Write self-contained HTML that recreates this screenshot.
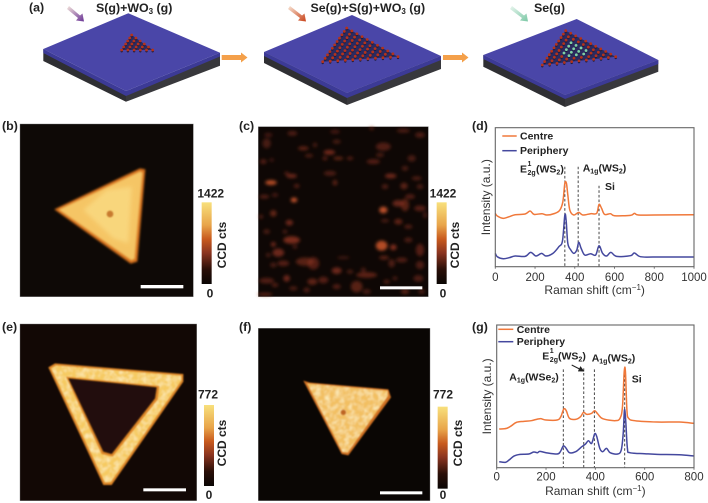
<!DOCTYPE html>
<html lang="en">
<head>
<meta charset="utf-8">
<title>Raman and PL mapping figure</title>
<style>
html,body{margin:0;padding:0;background:#fff;width:708px;height:503px;overflow:hidden}
svg{display:block;font-family:"Liberation Sans",sans-serif}
.lab{font-size:12.4px;font-weight:bold;fill:#222}
.ann{font-size:10.5px;font-weight:bold;fill:#222}
.sm{font-size:7px;font-weight:bold;fill:#222}
.cb{font-size:12px;font-weight:bold;fill:#222;text-anchor:middle}
.axt{font-size:12px;fill:#333}
</style>
</head>
<body>
<svg id="fig" width="708" height="503" viewBox="0 0 708 503" xmlns="http://www.w3.org/2000/svg">
<defs>
<linearGradient id="cbar" x1="0" y1="1" x2="0" y2="0">
<stop offset="0" stop-color="#0a0604"/><stop offset=".18" stop-color="#2a0f08"/><stop offset=".38" stop-color="#8a3420"/><stop offset=".55" stop-color="#c85a1e"/><stop offset=".72" stop-color="#e8a44a"/><stop offset="1" stop-color="#f8e07c"/>
</linearGradient>
<linearGradient id="gas1" x1="0" y1="0" x2="1" y2="1"><stop offset="0" stop-color="#f4e4dc"/><stop offset="1" stop-color="#6a3496"/></linearGradient>
<linearGradient id="gas2" x1="0" y1="0" x2="1" y2="1"><stop offset="0" stop-color="#f8e4d4"/><stop offset="1" stop-color="#c8431a"/></linearGradient>
<linearGradient id="gas3" x1="0" y1="0" x2="1" y2="1"><stop offset="0" stop-color="#e8f5ee"/><stop offset="1" stop-color="#7cc8a6"/></linearGradient>
<filter id="b6" x="-20%" y="-20%" width="140%" height="140%"><feGaussianBlur stdDeviation="6"/></filter>
<filter id="b4" x="-20%" y="-20%" width="140%" height="140%"><feGaussianBlur stdDeviation="3.5"/></filter>
<filter id="b3" x="-20%" y="-20%" width="140%" height="140%"><feGaussianBlur stdDeviation="2.5"/></filter>
<filter id="blob" x="-60%" y="-60%" width="220%" height="220%"><feGaussianBlur stdDeviation="4.5"/></filter>
<filter id="dot" x="-60%" y="-60%" width="220%" height="220%"><feGaussianBlur stdDeviation="2.5"/></filter>
<filter id="mottle" x="-5%" y="-5%" width="110%" height="110%">
<feTurbulence type="fractalNoise" baseFrequency=".07" numOctaves="2" seed="4" result="n"/>
<feColorMatrix in="n" type="matrix" values="0 0 0 0 .98  0 0 0 0 .86  0 0 0 0 .52  1.8 0 0 0 -.7" result="m"/>
<feComposite in="m" in2="SourceGraphic" operator="in" result="c"/>
<feMerge><feMergeNode in="SourceGraphic"/><feMergeNode in="c"/></feMerge>
<feGaussianBlur stdDeviation="2"/>
</filter>
<marker id="ah" markerWidth="6" markerHeight="6" refX="5" refY="3" orient="auto"><path d="M0,0 L6,3 L0,6 Z" fill="#222"/></marker>
</defs>

<!-- Panel a -->
<g id="panel-a">
<text class="lab" x="29" y="11.5">(a)</text>
<text class="lab" x="96" y="12">S(g)+WO<tspan font-size="8" dy="2">3</tspan><tspan dy="-2"> (g)</tspan></text>
<text class="lab" x="310.5" y="12">Se(g)+S(g)+WO<tspan font-size="8" dy="2">3</tspan><tspan dy="-2"> (g)</tspan></text>
<text class="lab" x="534" y="12">Se(g)</text>

<path d="M69,6 L80,15.5 L82.5,13.5 L84,21.5 L76,20.5 L78,18 L67,9 Z" fill="url(#gas1)"/>
<path d="M290,6 L302,15.5 L304.5,13.5 L306,21.5 L298,20.5 L300,18 L288,9 Z" fill="url(#gas2)"/>
<path d="M512,6 L524,15.5 L526.5,13.5 L528,21.5 L520,20.5 L522,18 L510,9 Z" fill="url(#gas3)"/>

<g>
<path d="M43.3,49 L126,95 L126,101.7 L43.3,61 Z" fill="#2f2f33"/>
<path d="M126,95 L220,52.7 L220,65.7 L126,101.7 Z" fill="#38383c"/>
<path d="M43.3,49 L126,91 L220,52.7 L220,56.5 L126,96 L43.3,53 Z" fill="#3c3a96"/>
<path d="M43.3,49 L128.3,13.3 L220,52.7 L126,91 Z" fill="#4a46a8"/>
</g>
<g>
<path d="M264,52 L347,93 L347,105 L264,63 Z" fill="#2f2f33"/>
<path d="M347,93 L441,56 L441,69 L347,105 Z" fill="#38383c"/>
<path d="M264,52 L347,93 L441,56 L441,60 L347,98 L264,56 Z" fill="#3c3a96"/>
<path d="M264,52 L352,15 L441,56 L347,93 Z" fill="#4a46a8"/>
</g>
<g>
<path d="M483.3,55 L565,95 L565,107 L483.3,66.7 Z" fill="#2f2f33"/>
<path d="M565,95 L658.3,60 L658.3,71.7 L565,107 Z" fill="#38383c"/>
<path d="M483.3,55 L565,95 L658.3,60 L658.3,64 L565,99 L483.3,59 Z" fill="#3c3a96"/>
<path d="M483.3,55 L576.7,19 L658.3,60 L565,95 Z" fill="#4a46a8"/>
</g>
<g id="atoms"></g>
<path d="M221.7,55 L241,55 L241,52.5 L247.5,57.5 L241,62.5 L241,60 L221.7,60 Z" fill="#f4a04a"/>
<path d="M443,55 L462,55 L462,52.5 L468.5,57.5 L462,62.5 L462,60 L443,60 Z" fill="#f4a04a"/>
</g>

<!-- Panel b -->
<text class="lab" x="2" y="130">(b)</text>
<g transform="translate(0,115) scale(.33333)">
<rect x="60" y="27" width="520" height="518" fill="#0e0906" stroke="#777" stroke-width="1.2"/>
<polygon points="163,283 420,160 436,163 412,440 392,446" fill="#d4701f" filter="url(#b4)"/>
<polygon points="176,284 420,169 428,172 404,432 394,436" fill="#f5c565" filter="url(#b4)"/>
<polygon points="250,285 320,225 395,215 385,385 340,370" fill="#f9d981" filter="url(#b6)" opacity=".85"/>
<circle cx="330" cy="297" r="10" fill="#c87a2e" filter="url(#dot)"/>
<rect x="422" y="510" width="128" height="10" fill="#fff"/>
<rect x="605" y="262" width="30" height="245" fill="url(#cbar)"/>
</g>
<text class="cb" x="210.7" y="197.5">1422</text>
<text class="cb" x="210" y="297.5">0</text>
<text class="cb" transform="translate(226,245) rotate(-90)">CCD cts</text>

<!-- Panel c -->
<text class="lab" x="239" y="130">(c)</text>
<g transform="translate(235,115) scale(.33333)">
<rect x="70" y="35" width="510" height="510" fill="#0e0705" stroke="#777" stroke-width="1.2"/>
<g id="blobs" filter="url(#blob)"></g>
<rect x="435" y="514" width="127" height="9" fill="#fff"/>
<rect x="605" y="262" width="30" height="245" fill="url(#cbar)"/>
</g>
<text class="cb" x="443" y="197.5">1422</text>
<text class="cb" x="443" y="297.5">0</text>
<text class="cb" transform="translate(459,245) rotate(-90)">CCD cts</text>

<!-- Panel e -->
<text class="lab" x="2" y="331">(e)</text>
<g transform="translate(0,310) scale(.33333)">
<rect x="60" y="42" width="530" height="530" fill="#120805" stroke="#777" stroke-width="1.2"/>
<polygon points="205,205 470,232 465,265 335,432 310,425" fill="#220d07" filter="url(#b3)"/>
<path d="M145,172 L165,160 L550,192 L550,215 L335,525 L310,525 Z M205,205 L310,425 L335,432 L465,265 L470,232 Z" fill-rule="evenodd" fill="#dc8428" filter="url(#b3)"/>
<path d="M153,175 L168,166 L544,197 L544,212 L332,517 L314,517 Z M198,200 L305,432 L338,440 L473,268 L478,228 Z" fill-rule="evenodd" fill="#f6ca62" filter="url(#mottle)"/>
<rect x="430" y="535" width="128" height="9" fill="#fff"/>
<rect x="612" y="285" width="30" height="243" fill="url(#cbar)"/>
</g>
<text class="cb" x="208" y="398.5">772</text>
<text class="cb" x="209" y="499">0</text>
<text class="cb" transform="translate(226,443) rotate(-90)">CCD cts</text>

<!-- Panel f -->
<text class="lab" x="239" y="331">(f)</text>
<g transform="translate(235,310) scale(.33333)">
<rect x="70" y="55" width="515" height="517" fill="#0a0604" stroke="#777" stroke-width="1.2"/>
<polygon points="205,212 225,218 460,238 468,262 340,436 320,432" fill="#cf7020" filter="url(#b3)"/>
<polygon points="216,220 458,242 459,258 338,428 322,426" fill="#f2bf62" filter="url(#mottle)"/>
<circle cx="325" cy="307" r="8" fill="#bd6522" filter="url(#dot)"/>
<rect x="435" y="544" width="127" height="9" fill="#fff"/>
<rect x="608" y="290" width="30" height="246" fill="url(#cbar)"/>
</g>
<text class="cb" x="443" y="398.5">772</text>
<text class="cb" x="443" y="499">0</text>
<text class="cb" transform="translate(462,443) rotate(-90)">CCD cts</text>

<!-- Panel d -->
<text class="lab" x="472" y="130">(d)</text>
<g id="chart-d"></g>
<g>
<line x1="502.3" x2="516.7" y1="136" y2="136" stroke="#f0783a" stroke-width="1.5"/>
<text class="ann" x="520" y="139.5">Centre</text>
<line x1="502.3" x2="516.7" y1="150.7" y2="150.7" stroke="#44489e" stroke-width="1.5"/>
<text class="ann" x="520" y="154">Periphery</text>
</g>
<g>
<text class="ann" x="520" y="172.3">E</text>
<text class="sm" x="527.5" y="166">1</text>
<text class="sm" x="527.5" y="175">2g</text>
<text class="ann" x="536" y="172.3">(WS<tspan font-size="7" dy="2">2</tspan><tspan dy="-2">)</tspan></text>
<text class="ann" x="582.7" y="171.7">A<tspan font-size="7" dy="2">1g</tspan><tspan dy="-2">(WS</tspan><tspan font-size="7" dy="2">2</tspan><tspan dy="-2">)</tspan></text>
<text class="ann" x="605" y="190">Si</text>
</g>

<!-- Panel g -->
<text class="lab" x="472" y="331">(g)</text>
<g id="chart-g"></g>
<g>
<line x1="498.3" x2="513.3" y1="329.3" y2="329.3" stroke="#f0783a" stroke-width="1.5"/>
<text class="ann" x="516.7" y="333">Centre</text>
<line x1="498.3" x2="513.3" y1="341.7" y2="341.7" stroke="#44489e" stroke-width="1.5"/>
<text class="ann" x="516.7" y="345">Periphery</text>
</g>
<g>
<text class="ann" x="509.3" y="380.7">A<tspan font-size="7" dy="2">1g</tspan><tspan dy="-2">(WSe</tspan><tspan font-size="7" dy="2">2</tspan><tspan dy="-2">)</tspan></text>
<text class="ann" x="542.3" y="359.3">E</text>
<text class="sm" x="549.8" y="353">1</text>
<text class="sm" x="549.8" y="362">2g</text>
<text class="ann" x="558" y="359.3">(WS<tspan font-size="7" dy="2">2</tspan><tspan dy="-2">)</tspan></text>
<text class="ann" x="591.7" y="361.7">A<tspan font-size="7" dy="2">1g</tspan><tspan dy="-2">(WS</tspan><tspan font-size="7" dy="2">2</tspan><tspan dy="-2">)</tspan></text>
<text class="ann" x="631.7" y="382.7">Si</text>
<line x1="571.7" y1="365" x2="583.5" y2="371" stroke="#222" stroke-width="1" marker-end="url(#ah)"/>
</g>

<script>
// Panel (d) data
var dTicks = [0, 200, 400, 600, 800, 1000];
var dCentreShift = [0,10,40,70,100,150,175,195,235,260,300,325,340,350,358,365,375,395,420,440,480,510,522,535,550,580,600,680,700,720,800,1000];
var dCentreValues = [160,152,145,150,156,158,167,157,159,155,160,170,195,250,250,215,170,155,163,155,159,160,187,175,157,159,153,154,160,155,155,156];
var dPeripheryShift = [0,10,40,70,100,150,178,205,233,255,290,320,338,350,357,365,380,395,410,420,432,450,480,505,522,540,560,582,610,680,700,730,800,1000];
var dPeripheryValues = [40,30,24,27,32,31,43,32,40,32,40,60,77,155,135,70,50,40,50,73,55,35,39,35,63,40,32,43,31,33,41,30,29,29];
var dPeaks = [350, 417, 522];
var dPeakTops = [300, 300, 243];

// Panel (g) data
var gTicks = [0, 200, 400, 600, 800];
var gCentreShift = [10,40,60,80,110,140,175,200,245,260,272,282,295,320,340,352,365,385,397,410,430,480,500,510,517,522,528,535,560,650,740,800];
var gCentreValues = [116,118,126,136,139,141,147,143,143,153,176,171,148,145,153,166,160,163,171,161,147,141,148,183,288,288,173,148,141,137,137,133];
var gPeripheryShift = [10,35,50,70,95,130,150,165,175,200,245,258,270,280,295,320,345,360,372,385,397,405,418,430,445,460,490,505,513,518,523,530,540,600,650,740,800];
var gPeripheryValues = [18,16,23,35,40,41,47,45,49,45,41,48,65,60,45,48,63,71,81,73,101,95,58,48,58,45,41,53,103,173,143,58,45,42,40,39,35];
var gPeaks = [270, 353, 396, 519];
var gPeakTops = [295, 298, 295, 293];

// Speckle blobs visible in map (c): centre x, centre y, radius x, radius y, strength
var cBlobs = [
[172,55,12,6,.35],[95,85,10,12,.3],[100,60,10,5,.25],[205,100,13,5,.55],[283,112,14,6,.75],[222,122,10,4,.4],
[270,130,6,5,.45],[310,130,12,4,.6],[345,130,8,4,.45],[415,140,16,6,.45],[445,95,18,10,.4],[435,120,10,5,.3],
[410,40,5,4,.5],[505,47,16,5,.35],[555,60,12,7,.35],[300,50,12,5,.25],[305,80,10,5,.3],[240,90,5,6,.3],
[85,140,8,6,.4],[110,135,6,4,.25],[530,130,10,8,.3],[510,160,8,6,.3],[170,183,13,5,.7],[108,203,14,6,.95],
[155,175,6,4,.4],[285,175,15,6,.35],[300,203,6,7,.5],[185,213,7,5,.4],[120,240,8,5,.25],[88,245,12,5,.4],
[177,255,8,6,1],[467,183,14,6,.7],[545,190,12,5,.35],[507,213,9,8,.5],[450,215,8,6,.35],[555,215,8,6,.3],
[490,265,14,8,.65],[510,270,10,15,.5],[525,245,12,6,.4],[445,285,10,8,1],[555,280,14,7,.45],[115,295,8,8,.6],
[78,305,5,5,.4],[163,323,9,7,.7],[490,320,10,7,.55],[450,317,10,4,.35],[520,335,10,5,.4],[570,300,5,8,.25],
[170,375,20,9,.85],[115,388,6,6,.7],[95,350,8,6,.3],[150,350,6,5,.3],[440,392,14,12,.95],[475,397,8,7,.9],
[555,405,10,15,.45],[520,375,10,6,.35],[130,413,14,10,.7],[100,420,6,5,.3],[210,440,22,10,.5],[235,445,14,15,.45],
[180,395,6,5,.3],[145,445,14,7,.45],[115,450,8,6,.3],[447,428,12,5,.5],[500,435,14,6,.4],[470,445,8,10,.35],
[555,450,10,10,.35],[325,428,15,3,.3],[305,467,12,8,.7],[395,480,25,7,.55],[345,470,8,5,.3],[385,465,6,6,.3],
[95,497,18,7,.4],[155,490,8,8,.7],[232,500,12,8,.55],[265,495,12,8,.45],[120,510,8,5,.4],[175,520,10,5,.35],
[215,525,8,6,.35],[305,515,10,6,.4],[365,515,14,14,.5],[510,530,10,6,.5],[90,538,18,4,.5],[455,500,8,5,.35],
[550,490,12,8,.35],[480,490,6,5,.3],[560,530,8,6,.3],[395,530,10,6,.3]
];

var NS = 'http://www.w3.org/2000/svg';
function mk(tag, attrs, parent) {
  var el = document.createElementNS(NS, tag);
  for (var k in attrs) el.setAttribute(k, attrs[k]);
  parent.appendChild(el);
  return el;
}

function smoothPath(pts) {
  var d = 'M' + pts[0][0].toFixed(2) + ',' + pts[0][1].toFixed(2);
  for (var i = 0; i < pts.length - 1; i++) {
    var p0 = pts[Math.max(0, i - 1)], p1 = pts[i], p2 = pts[i + 1], p3 = pts[Math.min(pts.length - 1, i + 2)];
    var c1x = p1[0] + (p2[0] - p0[0]) / 6, c1y = p1[1] + (p2[1] - p0[1]) / 6;
    var c2x = p2[0] - (p3[0] - p1[0]) / 6, c2y = p2[1] - (p3[1] - p1[1]) / 6;
    d += ' C' + c1x.toFixed(2) + ',' + c1y.toFixed(2) + ' ' + c2x.toFixed(2) + ',' + c2y.toFixed(2) + ' ' + p2[0].toFixed(2) + ',' + p2[1].toFixed(2);
  }
  return d;
}

function drawChart(id, box, xMax, yMax, ticks, tickBase, titleBase, ylabelX, series, peaks, tops) {
  var g = document.getElementById(id);
  function xScale(v) { return box.left + (box.right - box.left) * v / xMax; }
  function yScale(v) { return box.bottom - (box.bottom - box.top) * v / yMax; }

  peaks.forEach(function (p, i) {
    var dash = mk('line', {x1: xScale(p), x2: xScale(p), y1: yScale(tops[i]), y2: box.bottom, stroke: '#333', 'stroke-width': 0.9, 'stroke-dasharray': '2.6 2'}, g);
    
    
  });

  series.forEach(function (s) {
    var pts = s.shift.map(function (x, i) { return [xScale(x), yScale(s.values[i])]; });
    var line = mk('path', {d: smoothPath(pts), fill: 'none', stroke: s.color, 'stroke-width': 1.5, 'stroke-linejoin': 'round'}, g);
    
    
  });

  var frame = mk('rect', {x: box.left, y: box.top, width: box.right - box.left, height: box.bottom - box.top, fill: 'none', stroke: '#666', 'stroke-width': 1.1}, g);
  
  

  ticks.forEach(function (t) {
    var tick = mk('line', {x1: xScale(t), x2: xScale(t), y1: box.bottom, y2: box.bottom + 2, stroke: '#666', 'stroke-width': 0.9}, g);
    
    
    var lab = mk('text', {x: xScale(t), y: tickBase, 'text-anchor': 'middle', 'font-size': 11.5, fill: '#333'}, g);
    
    
    lab.textContent = t;
  });

  var title = mk('text', {x: (box.left + box.right) / 2, y: titleBase, 'text-anchor': 'middle', class: 'axt'}, g);
  
  
  title.textContent = 'Raman shift (cm';
  var sup = mk('tspan', {'font-size': 8, dy: -4}, title);
  sup.textContent = '\u22121';
  var close = mk('tspan', {dy: 4}, title);
  close.textContent = ')';

  var yl = mk('text', {transform: 'translate(' + ylabelX + ',' + (box.top + box.bottom) / 2 + ') rotate(-90)', 'text-anchor': 'middle', class: 'axt'}, g);
  
  
  yl.textContent = 'Intensity (a.u.)';
}

drawChart('chart-d', {left: 495.3, right: 694, top: 127.7, bottom: 266.7}, 1000, 417, dTicks, 281, 294, 490, [
  {shift: dCentreShift, values: dCentreValues, color: '#f0783a', name: 'series-centre-d'},
  {shift: dPeripheryShift, values: dPeripheryValues, color: '#44489e', name: 'series-periphery-d'}
], dPeaks, dPeakTops);

drawChart('chart-g', {left: 496.7, right: 694, top: 325, bottom: 467.7}, 800, 428, gTicks, 480.5, 495, 491, [
  {shift: gCentreShift, values: gCentreValues, color: '#f0783a', name: 'series-centre-g'},
  {shift: gPeripheryShift, values: gPeripheryValues, color: '#44489e', name: 'series-periphery-g'}
], gPeaks, gPeakTops);

// Speckles
var blobHost = document.getElementById('blobs');
cBlobs.forEach(function (b) {
  var el = mk('ellipse', {cx: b[0], cy: b[1], rx: b[2] * 1.25, ry: b[3] * 1.25, fill: b[4] > 0.9 ? '#c8552a' : '#8f3320', opacity: Math.min(1, 0.22 + 0.7 * b[4])}, blobHost);
  
  
});

// Atom lattices in schematic
function lattice(apex, left, right, rows, core) {
  var host = document.getElementById('atoms');
  var under = mk('polygon', {points: apex.join(',') + ' ' + left.join(',') + ' ' + right.join(','), fill: '#23234e', opacity: 0.8}, host);
  
  
  for (var r = 0; r <= rows; r++) {
    var t = r / rows;
    for (var c = 0; c <= r; c++) {
      var s = r ? c / r : 0;
      var x = apex[0] + t * (left[0] - apex[0]) + t * s * (right[0] - left[0]);
      var y = apex[1] + t * (left[1] - apex[1]) + t * s * (right[1] - left[1]);
      var inner = core && r > rows * 0.35 && r < rows * 0.85 && s > 0.25 && s < 0.75;
      var shade = mk('circle', {cx: x, cy: y + 1.3, r: 1.2, fill: '#1c1c3c'}, host);
      
      
      var atom = mk('circle', {cx: x, cy: y, r: 1.4, fill: inner ? '#7fd0a4' : '#b5321a'}, host);
      
      
    }
  }
}
lattice([131.7, 35], [121.7, 50], [152.7, 50], 5, false);
lattice([346.7, 28], [322.7, 61.7], [398, 56.7], 10, false);
lattice([565.7, 30.7], [542.3, 65], [615.7, 56.7], 10, true);
</script>
</svg>
</body>
</html>
